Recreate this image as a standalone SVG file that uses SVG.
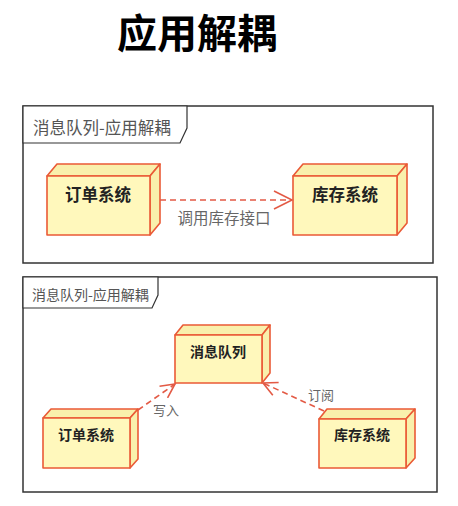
<svg xmlns="http://www.w3.org/2000/svg" width="458" height="506" viewBox="0 0 458 506">
  <style>
    .title { font-family: "Noto Sans CJK SC", "Liberation Sans", sans-serif; font-size: 40px; font-weight: 700; fill: #000; }
    .frame { fill: #fff; stroke: #333; stroke-width: 1.5; }
    .tab { fill: #fff; stroke: #333; stroke-width: 1.2; }
    .tabtxt { font-family: "Noto Sans CJK SC", "Liberation Sans", sans-serif; fill: #555; }
    .face { fill: #fff8bc; stroke: #ea5a36; stroke-width: 1.6; stroke-linejoin: round; }
    .side { fill: #f9f0ac; stroke: #ea5a36; stroke-width: 1.6; stroke-linejoin: round; }
    .ntxt { font-family: "Noto Sans CJK SC", "Liberation Sans", sans-serif; font-weight: 700; fill: #222; text-anchor: middle; }
    .dep { fill: none; stroke: #e35a45; stroke-width: 1.6; stroke-dasharray: 6 4; }
    .lbl { font-family: "Noto Sans CJK SC", "Liberation Sans", sans-serif; fill: #666; text-anchor: middle; }
  </style>
  <defs>
    <marker id="open" viewBox="-20 -10 22 20" refX="0" refY="0" markerWidth="22" markerHeight="20" markerUnits="userSpaceOnUse" orient="auto">
      <path d="M-18,-9 L0,0 L-18,9" fill="none" stroke="#e35a45" stroke-width="1.6"/>
    </marker>
    <marker id="openSm" viewBox="-16 -8 18 16" refX="0" refY="0" markerWidth="18" markerHeight="16" markerUnits="userSpaceOnUse" orient="auto">
      <path d="M-14,-7 L0,0 L-14,7" fill="none" stroke="#e35a45" stroke-width="1.6"/>
    </marker>
  </defs>

  <rect width="458" height="506" fill="#fff"/>

  <text class="title" x="197" y="48" text-anchor="middle">应用解耦</text>

  <!-- Frame 1: direct call -->
  <g id="frame1">
    <rect class="frame" x="23" y="106" width="410" height="157"/>
    <path class="tab" d="M23,106 H187 V128 L180,143 H23 Z"/>
    <text class="tabtxt" x="33" y="134" font-size="16.5">消息队列-应用解耦</text>
  </g>

  <g id="order1">
    <path class="side" d="M47,176 L57,164 H160 L150,176 Z"/>
    <path class="side" d="M150,176 L160,164 V223 L150,235 Z"/>
    <rect class="face" x="47" y="176" width="103" height="59"/>
    <text class="ntxt" x="98" y="201" font-size="16.5">订单系统</text>
  </g>

  <g id="stock1">
    <path class="side" d="M293,176 L303,164 H407 L397,176 Z"/>
    <path class="side" d="M397,176 L407,164 V223 L397,235 Z"/>
    <rect class="face" x="293" y="176" width="104" height="59"/>
    <text class="ntxt" x="345" y="201" font-size="16.5">库存系统</text>
  </g>

  <!-- Frame 2: via message queue -->
  <g id="frame2">
    <rect class="frame" x="23" y="277" width="414" height="215"/>
    <path class="tab" d="M23,277 H158 V295 L152,308 H23 Z"/>
    <text class="tabtxt" x="32" y="300" font-size="14">消息队列-应用解耦</text>
  </g>

  <g id="mq">
    <path class="side" d="M175,335 L183,325 H270 L262,335 Z"/>
    <path class="side" d="M262,335 L270,325 V373 L262,383 Z"/>
    <rect class="face" x="175" y="335" width="87" height="48"/>
    <text class="ntxt" x="218" y="357" font-size="14">消息队列</text>
  </g>

  <g id="order2">
    <path class="side" d="M43,418 L51,409 H138 L130,418 Z"/>
    <path class="side" d="M130,418 L138,409 V459 L130,468 Z"/>
    <rect class="face" x="43" y="418" width="87" height="50"/>
    <text class="ntxt" x="86" y="440" font-size="14">订单系统</text>
  </g>

  <g id="stock2">
    <path class="side" d="M319,419 L327,409 H415 L406,419 Z"/>
    <path class="side" d="M406,419 L415,409 V458 L406,468 Z"/>
    <rect class="face" x="319" y="419" width="87" height="49"/>
    <text class="ntxt" x="362" y="440" font-size="14">库存系统</text>
  </g>

  <!-- Connectors -->
  <g id="connectors">
    <line class="dep" x1="160" y1="200" x2="292" y2="200" marker-end="url(#open)"/>
    <text class="lbl" x="224" y="224" font-size="15.5">调用库存接口</text>

    <line class="dep" x1="138" y1="410" x2="175" y2="384" marker-end="url(#openSm)"/>
    <text class="lbl" x="166" y="415" font-size="13">写入</text>

    <line class="dep" x1="324" y1="411" x2="263" y2="383" marker-end="url(#openSm)"/>
    <text class="lbl" x="321" y="400" font-size="13">订阅</text>
  </g>
</svg>
